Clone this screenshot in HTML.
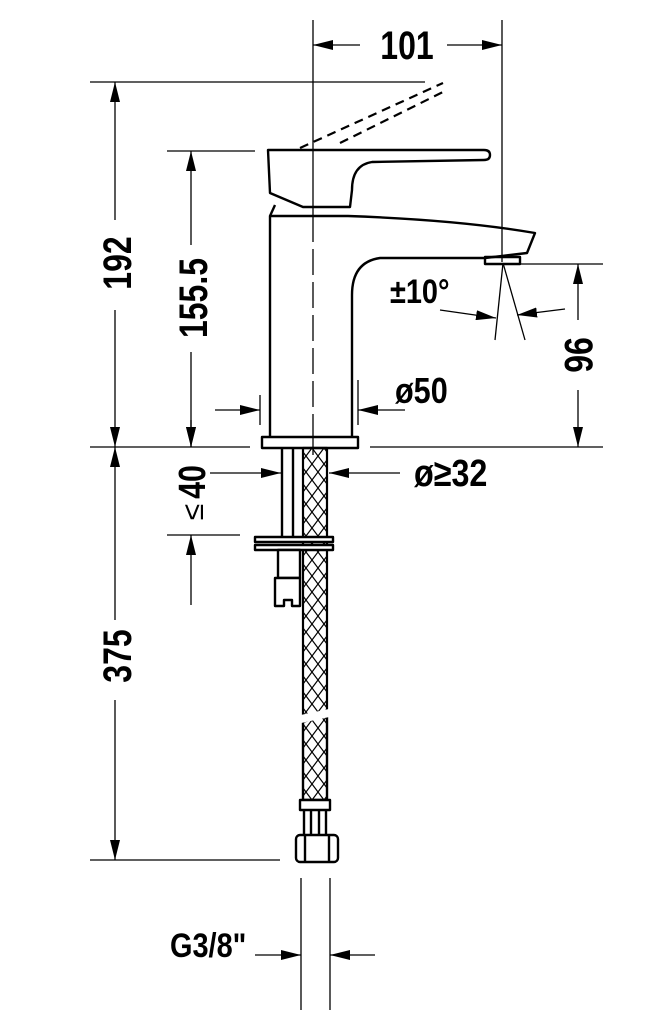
<!DOCTYPE html>
<html><head><meta charset="utf-8"><style>
html,body{margin:0;padding:0;background:#fff}
svg{display:block}
text{font-family:"Liberation Sans Narrow","Liberation Sans",sans-serif;font-weight:bold;fill:#000}
</style></head><body>
<svg width="657" height="1024" viewBox="0 0 657 1024" xmlns="http://www.w3.org/2000/svg">
<defs>
<marker id="a" viewBox="0 0 20 10" refX="20" refY="5" markerWidth="20" markerHeight="10" markerUnits="userSpaceOnUse" orient="auto"><path d="M0,0 L20,5 L0,10 Z" fill="#000"/></marker>
<pattern id="braid" width="12" height="16" patternUnits="userSpaceOnUse"><path d="M0,0 L12,16 M12,0 L0,16" stroke="#000" stroke-width="1.2" fill="none"/></pattern>
</defs>
<g stroke="#000" stroke-width="1.3" fill="none">
<line x1="313" y1="20" x2="313" y2="216"/>
<line x1="313" y1="216" x2="313" y2="437" stroke-dasharray="26,7"/>
<line x1="313" y1="437" x2="313" y2="455"/>
<line x1="502" y1="20" x2="502" y2="262"/>
<line x1="90" y1="82" x2="425" y2="82"/>
<line x1="167" y1="151" x2="255" y2="151"/>
<line x1="90" y1="447" x2="250" y2="447"/>
<line x1="370" y1="447" x2="603" y2="447"/>
<line x1="520" y1="264" x2="603" y2="264"/>
<line x1="167" y1="535" x2="240" y2="535"/>
<line x1="90" y1="860" x2="280" y2="860"/>
<line x1="360" y1="45" x2="313" y2="45" marker-end="url(#a)"/>
<line x1="447" y1="45" x2="502" y2="45" marker-end="url(#a)"/>
<line x1="115" y1="220" x2="115" y2="82" marker-end="url(#a)"/>
<line x1="115" y1="310" x2="115" y2="447" marker-end="url(#a)"/>
<line x1="191" y1="245" x2="191" y2="151" marker-end="url(#a)"/>
<line x1="191" y1="352" x2="191" y2="447" marker-end="url(#a)"/>
<line x1="115" y1="620" x2="115" y2="447" marker-end="url(#a)"/>
<line x1="115" y1="700" x2="115" y2="860" marker-end="url(#a)"/>
<line x1="191" y1="420" x2="191" y2="447" marker-end="url(#a)"/>
<line x1="191" y1="605" x2="191" y2="535" marker-end="url(#a)"/>
<line x1="578" y1="320" x2="578" y2="264" marker-end="url(#a)"/>
<line x1="578" y1="390" x2="578" y2="447" marker-end="url(#a)"/>
<line x1="260" y1="395" x2="260" y2="425"/>
<line x1="358" y1="380" x2="358" y2="425"/>
<line x1="215" y1="410" x2="260" y2="410" marker-end="url(#a)"/>
<line x1="405" y1="410" x2="358" y2="410" marker-end="url(#a)"/>
<line x1="210" y1="473" x2="281" y2="473" marker-end="url(#a)"/>
<line x1="400" y1="473" x2="329" y2="473" marker-end="url(#a)"/>
<line x1="503" y1="263" x2="495" y2="340"/>
<line x1="503" y1="263" x2="525" y2="340"/>
<line x1="440" y1="310" x2="496" y2="318" marker-end="url(#a)"/>
<line x1="565" y1="309" x2="517" y2="315" marker-end="url(#a)"/>
<line x1="301" y1="878" x2="301" y2="1010"/>
<line x1="330" y1="878" x2="330" y2="1010"/>
<line x1="255" y1="955" x2="301" y2="955" marker-end="url(#a)"/>
<line x1="375" y1="955" x2="330" y2="955" marker-end="url(#a)"/>
</g>
<g stroke="#000" stroke-width="2.4" fill="none" stroke-linejoin="round">
<line x1="300" y1="148" x2="443" y2="83" stroke-width="2.2" stroke-dasharray="9,6"/>
<line x1="340" y1="143" x2="447" y2="90" stroke-width="2.2" stroke-dasharray="9,6"/>
<path d="M268,150 L484,150 Q490,150 490,155 Q490,160 484,160 L372,162 Q352,165 352,190 L350,207 L303,207 L270,193 Z"/>
<path d="M270,437 L270,216 L275,205"/>
<path d="M270,216 L348,216 Q460,220 535,233 L527,253 L485,258"/>
<path d="M485,258 L380,258 Q352,262 352,295 L352,437"/>
<rect x="485" y="257" width="35" height="7"/>
<rect x="262" y="437" width="96" height="11"/>
<line x1="282" y1="448" x2="282" y2="537"/>
<line x1="293" y1="448" x2="293" y2="537"/>
<rect x="303" y="448" width="24" height="268" fill="url(#braid)" stroke-width="2.2"/>
<rect x="255" y="537" width="78" height="5" fill="#fff"/>
<rect x="255" y="545" width="78" height="5" fill="#fff"/>
<rect x="278" y="550" width="22" height="28" fill="#fff"/>
<path d="M275,578 L300,578 L300,606 L292,606 L292,600 L284,600 L284,606 L275,606 Z" fill="#fff"/>
<path d="M303,722 Q315,718 327,710 L327,800 L303,800 Z" fill="url(#braid)"/>
<rect x="300" y="800" width="30" height="10" fill="#fff"/>
<line x1="304" y1="810" x2="304" y2="835"/><line x1="311" y1="810" x2="311" y2="835"/>
<line x1="319" y1="810" x2="319" y2="835"/><line x1="326" y1="810" x2="326" y2="835"/>
<rect x="296" y="835" width="42" height="27" rx="4" fill="#fff"/>
<line x1="305" y1="836" x2="305" y2="861"/><line x1="329" y1="836" x2="329" y2="861"/>
</g>
<rect x="300" y="712" width="30" height="8" fill="#fff" transform="rotate(-12 315 716)"/>
<g transform="translate(407,59) scale(0.8,1)"><text font-size="40" text-anchor="middle">101</text></g>
<g transform="translate(131,263) rotate(-90) scale(0.8,1)"><text font-size="40" text-anchor="middle">192</text></g>
<g transform="translate(207,298) rotate(-90) scale(0.8,1)"><text font-size="40" text-anchor="middle">155.5</text></g>
<g transform="translate(131,656) rotate(-90) scale(0.8,1)"><text font-size="40" text-anchor="middle">375</text></g>
<g transform="translate(205,482) rotate(-90) scale(0.8,1)"><text font-size="38" text-anchor="middle">40</text></g>
<g transform="translate(203,512) rotate(-90)"><text font-size="30" text-anchor="middle" style="font-weight:normal">≤</text></g>
<g transform="translate(565,355) rotate(90) scale(0.8,1)"><text font-size="40" text-anchor="middle">96</text></g>
<g transform="translate(390,303) scale(0.85,1)"><text font-size="34">±10°</text></g>
<g transform="translate(395,403) scale(0.85,1)"><text font-size="36">ø50</text></g>
<g transform="translate(414,486) scale(0.85,1)"><text font-size="38">ø≥32</text></g>
<g transform="translate(170,957) scale(0.85,1)"><text font-size="34">G3/8"</text></g>
</svg>
</body></html>
